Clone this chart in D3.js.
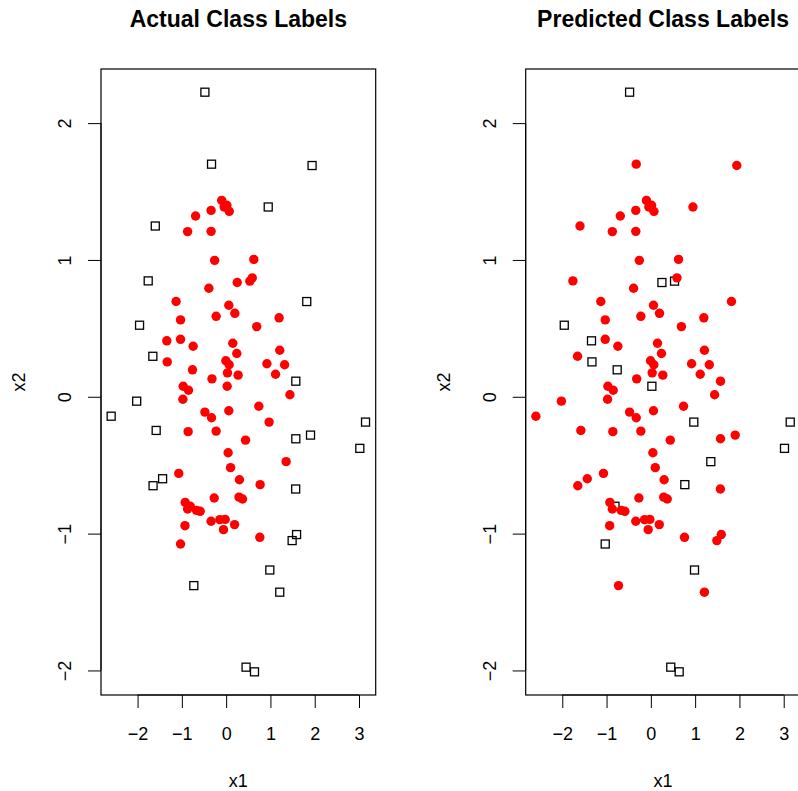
<!DOCTYPE html>
<html>
<head>
<meta charset="utf-8">
<script src="https://cdn.jsdelivr.net/npm/d3@7"></script>
<style>
  html, body { margin: 0; padding: 0; background: #ffffff; }
  svg { display: block; }
  text { font-family: "Liberation Sans", Arial, Helvetica, sans-serif; fill: #000; }
</style>
</head>
<body>
<svg id="chart" width="798" height="791"></svg>
<script>
// Sample coordinates
const x1 = [-0.48, -0.33, -0.10, -0.045, 0.07, 0.016, -0.34, -0.69, -1.60, -0.87,
  -0.34, -0.26, -1.76, 1.94, 0.95, 0.625, 0.59, 0.535, 0.25, -0.39,
  -1.13, 0.06, 0.196, -0.226, -1.03, -1.955, -1.34, -1.03, -0.745, 0.15,
  0.24, -1.655, -1.33, -0.007, 0.068, -0.76, 0.03, 0.27, -0.32, 0.023,
  -0.97, -0.85, -0.977, -2.02, -2.596, -0.48, -0.33, 0.06, -1.58, -0.858,
  -0.226, 0.045, 0.10, -1.07, -1.435, -1.65, 0.30, 1.82, 1.196, 0.69,
  1.21, 0.92, 1.32, 1.115, 1.573, 1.44, 0.738, 0.97, 3.147, 0.438,
  1.573, 1.905, 3.018, 1.354, 0.767, 1.57, -0.27, 0.29, 0.37, -0.925,
  -0.81, -0.87, -0.67, -0.587, -0.34, -0.142, -0.023, 0.19, -0.06, -0.93,
  -1.03, -0.73, 0.76, 1.59, 1.49, 0.986, 1.21, 0.45, 0.64];
const x2 = [2.226, 1.70, 1.435, 1.387, 1.355, 1.40, 1.362, 1.321, 1.248, 1.207,
  1.209, 0.997, 0.847, 1.69, 1.387, 1.004, 0.869, 0.845, 0.835, 0.793,
  0.696, 0.669, 0.610, 0.588, 0.562, 0.523, 0.409, 0.420, 0.369, 0.391,
  0.316, 0.296, 0.255, 0.263, 0.234, 0.197, 0.175, 0.158, 0.131, 0.077,
  0.077, 0.048, -0.018, -0.032, -0.142, -0.112, -0.153, -0.102, -0.246, -0.255,
  -0.251, -0.409, -0.518, -0.560, -0.599, -0.650, -0.606, 0.696, 0.577, 0.513,
  0.340, 0.241, 0.234, 0.165, 0.114, 0.015, -0.069, -0.185, -0.185, -0.317,
  -0.307, -0.280, -0.377, -0.474, -0.642, -0.674, -0.740, -0.733, -0.747, -0.772,
  -0.80, -0.82, -0.83, -0.837, -0.91, -0.898, -0.896, -0.934, -0.971, -0.942,
  -1.076, -1.38, -1.027, -1.007, -1.051, -1.266, -1.428, -1.976, -2.010];

// Class labels: 1 = inner class (filled red dot), 0 = outer class (open square)
const actualClass = [0, 0, 1, 1, 1, 1, 1, 1, 0, 1,
  1, 1, 0, 0, 0, 1, 1, 1, 1, 1,
  1, 1, 1, 1, 1, 0, 1, 1, 1, 1,
  1, 0, 1, 1, 1, 1, 1, 1, 1, 1,
  1, 1, 1, 0, 0, 1, 1, 1, 0, 1,
  1, 1, 1, 1, 0, 0, 1, 0, 1, 1,
  1, 1, 1, 1, 0, 1, 1, 1, 0, 1,
  0, 0, 0, 1, 1, 0, 1, 1, 1, 1,
  1, 1, 1, 1, 1, 1, 1, 1, 1, 1,
  1, 0, 1, 0, 0, 0, 0, 0, 0];
const predictedClass = [0, 1, 1, 1, 1, 1, 1, 1, 1, 1,
  1, 1, 1, 1, 1, 1, 1, 0, 0, 1,
  1, 1, 1, 1, 1, 0, 0, 1, 1, 1,
  1, 1, 0, 1, 1, 0, 1, 1, 1, 0,
  1, 1, 1, 1, 1, 1, 1, 1, 1, 1,
  1, 1, 1, 1, 1, 1, 1, 1, 1, 1,
  1, 1, 1, 1, 1, 1, 1, 0, 0, 1,
  1, 1, 0, 0, 0, 1, 1, 1, 1, 1,
  0, 1, 1, 1, 1, 1, 1, 1, 1, 1,
  0, 1, 1, 1, 1, 0, 1, 0, 0];

const panelTitles = ["Actual Class Labels", "Predicted Class Labels"];
const xTicks = [-2, -1, 0, 1, 2, 3];
const yTicks = [-2, -1, 0, 1, 2];
const xLabel = "x1";
const yLabel = "x2";

const svg = d3.select("#chart");

// Plot region of each panel (box edges), right panel shifted by one figure width
const box = { left: 101, right: 375.7, top: 69, bottom: 695 };
const panelShift = 424.7;

// Extend the data range by 4% on each side
function padded(values) {
  const [lo, hi] = d3.extent(values);
  const r = hi - lo;
  return [lo - 0.04 * r, hi + 0.04 * r];
}

const xScale = d3.scaleLinear().domain(padded(x1)).range([box.left, box.right]);
const yScale = d3.scaleLinear().domain(padded(x2)).range([box.bottom, box.top]);

const fmt = v => (v < 0 ? "\u2212" + Math.abs(v) : String(v));
const points = x1.map((v, i) => ({ x: v, y: x2[i], a: actualClass[i], p: predictedClass[i] }));

function drawPanel(index, key) {
  const g = svg.append("g").attr("transform", `translate(${index * panelShift},0)`);

  // Title
  g.append("text")
    .attr("x", (box.left + box.right) / 2)
    .attr("y", 27)
    .attr("text-anchor", "middle")
    .style("font-size", "23px")
    .style("font-weight", "bold")
    .text(panelTitles[index]);

  // Bottom axis
  const xAxis = g.append("g").attr("transform", `translate(0,${box.bottom})`)
    .call(d3.axisBottom(xScale).tickValues(xTicks).tickSize(13).tickSizeOuter(0).tickPadding(32).tickFormat(fmt));
  xAxis.select(".domain").attr("d", `M${xScale(xTicks[0])},0H${xScale(xTicks[xTicks.length - 1])}`);
  xAxis.selectAll("text").style("font-size", "18px").style("font-family", null).attr("dy", null);
  xAxis.selectAll("line, path").attr("stroke", "#000").attr("stroke-width", 1);

  // Left axis with rotated labels
  const yAxis = g.append("g").attr("transform", `translate(${box.left},0)`)
    .call(d3.axisLeft(yScale).tickValues(yTicks).tickSize(13).tickSizeOuter(0).tickFormat(fmt));
  yAxis.select(".domain").attr("d", `M0,${yScale(yTicks[0])}V${yScale(yTicks[yTicks.length - 1])}`);
  yAxis.selectAll("line, path").attr("stroke", "#000").attr("stroke-width", 1);
  yAxis.selectAll("text")
    .attr("x", null).attr("dy", null)
    .attr("text-anchor", "middle")
    .style("font-size", "18px").style("font-family", null)
    .attr("transform", "translate(-30,0) rotate(-90)");

  xAxis.selectAll(".tick text").attr("y", 45);

  // Plot box
  g.append("rect")
    .attr("x", box.left).attr("y", box.top)
    .attr("width", box.right - box.left).attr("height", box.bottom - box.top)
    .attr("fill", "none").attr("stroke", "#000").attr("stroke-width", 1.2);

  // Axis titles
  g.append("text")
    .attr("x", (box.left + box.right) / 2).attr("y", 787)
    .attr("text-anchor", "middle").style("font-size", "18px")
    .text(xLabel);
  g.append("text")
    .attr("transform", `translate(25,${(box.top + box.bottom) / 2}) rotate(-90)`)
    .attr("text-anchor", "middle").style("font-size", "18px")
    .text(yLabel);

  // Points: open squares for class 0, filled red dots for class 1
  const s = 8;
  g.selectAll("rect.sq").data(points.filter(d => d[key] === 0)).join("rect")
    .attr("class", "sq")
    .attr("x", d => xScale(d.x) - s / 2).attr("y", d => yScale(d.y) - s / 2)
    .attr("width", s).attr("height", s)
    .attr("fill", "none").attr("stroke", "#000").attr("stroke-width", 1.3);
  g.selectAll("circle.dot").data(points.filter(d => d[key] === 1)).join("circle")
    .attr("class", "dot")
    .attr("cx", d => xScale(d.x)).attr("cy", d => yScale(d.y))
    .attr("r", 4.7).attr("fill", "#ff0000");
}

drawPanel(0, "a");
drawPanel(1, "p");
</script>
</body>
</html>
